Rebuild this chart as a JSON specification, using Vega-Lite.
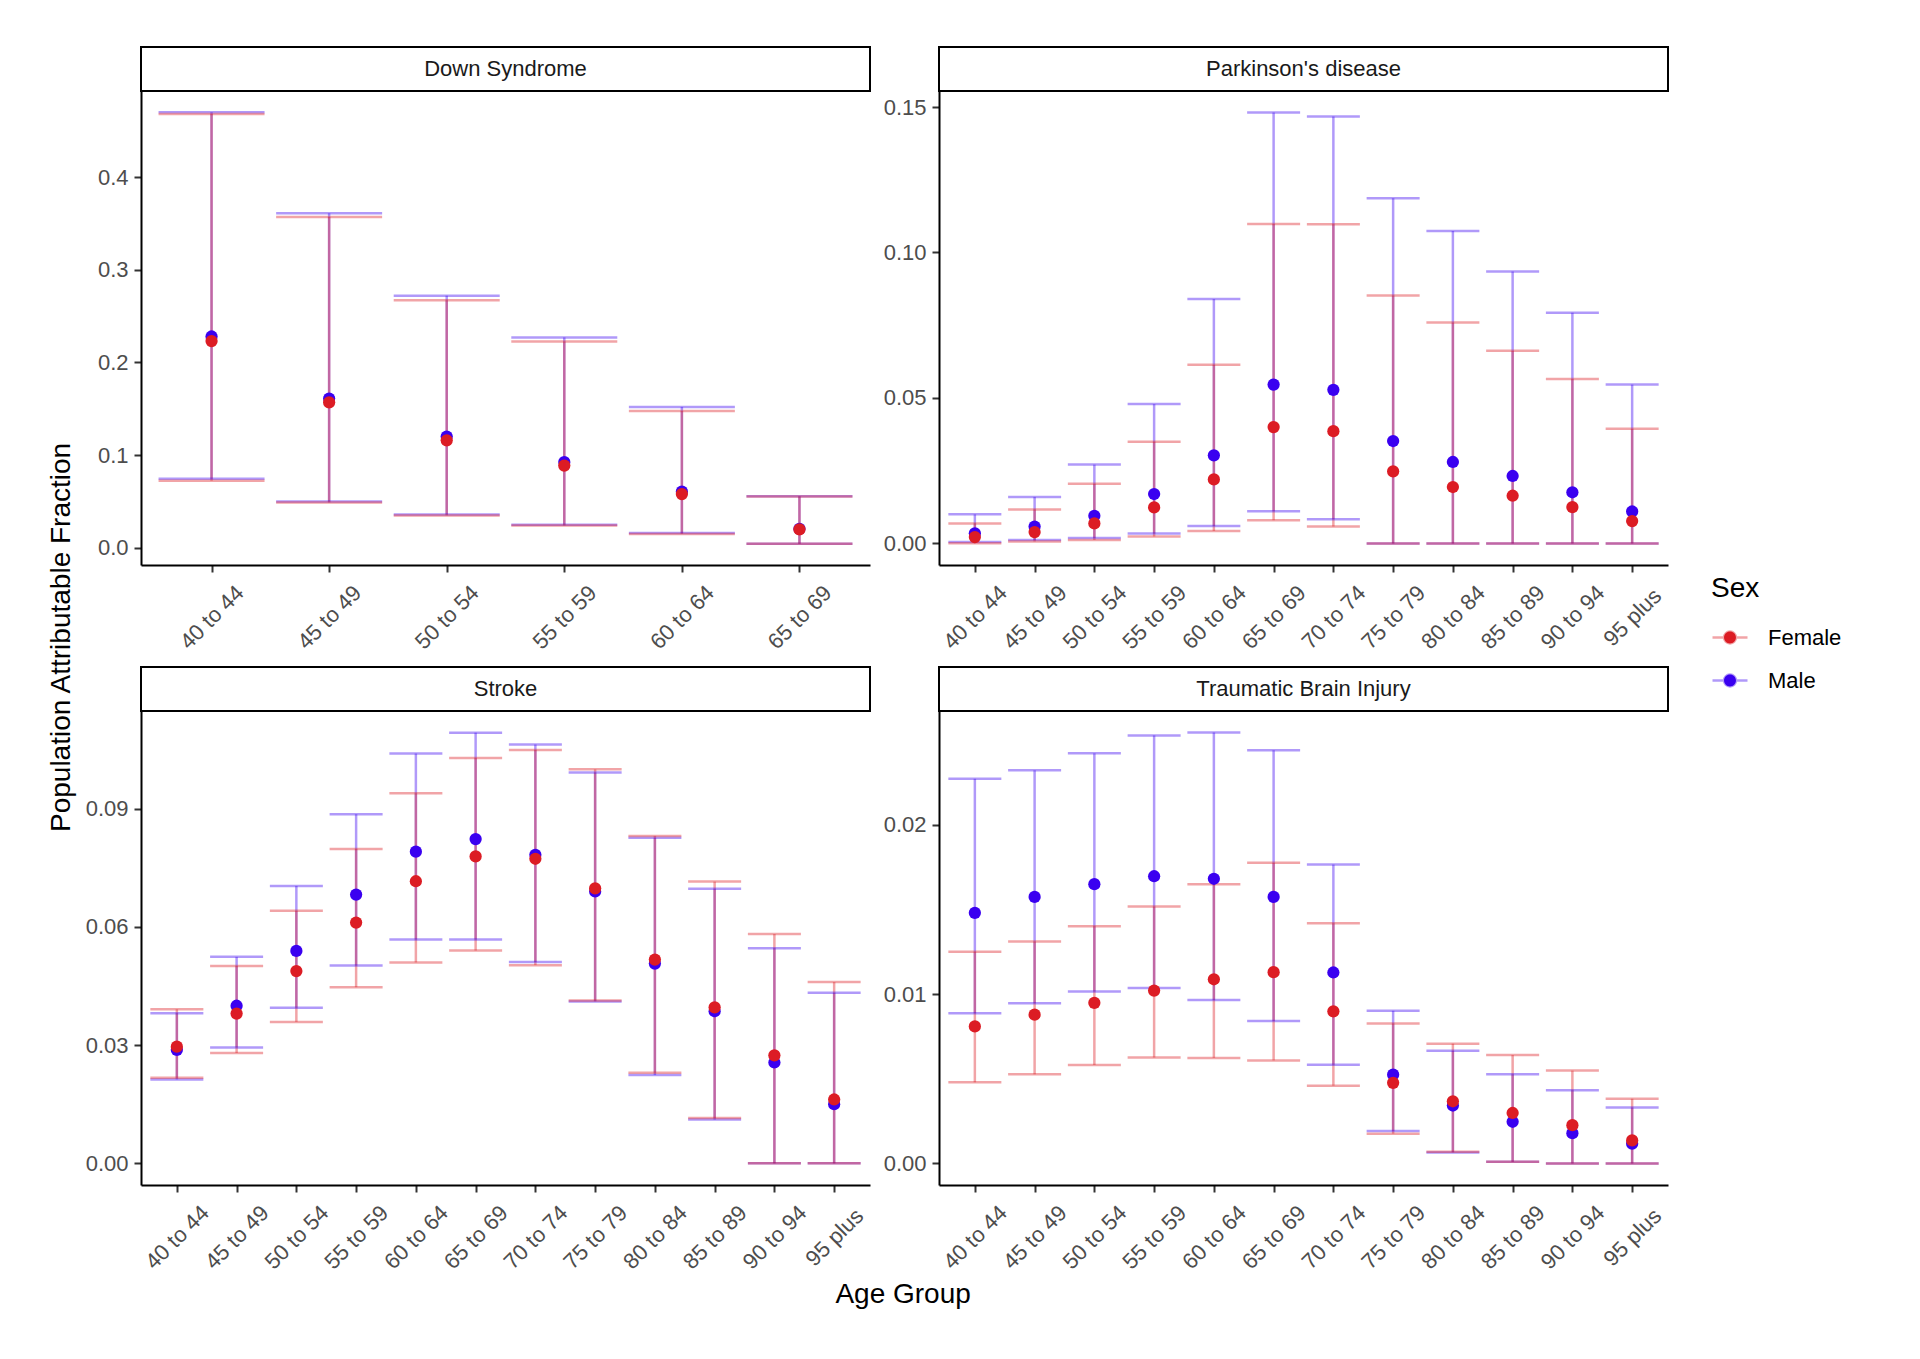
{
  "$schema": "https://vega.github.io/schema/vega-lite/v6.json",
  "padding": {"left": 48, "top": 46, "right": 10, "bottom": 10},
  "background": "white",
  "config": {
    "font": "Liberation Sans",
    "view": {"stroke": null},
    "axis": {"domainColor": "black", "domainWidth": 2, "tickColor": "#333333", "tickWidth": 2, "tickSize": 7, "labelColor": "#4D4D4D", "labelFontSize": 22, "labelFont": "Liberation Sans", "grid": false, "titleFontSize": 28, "titleFontWeight": "normal", "titleColor": "black", "titleFont": "Liberation Sans", "labelOverlap": false},
    "axisY": {"labelPadding": 6},
    "axisX": {"labelAngle": -45, "labelAlign": "center", "labelBaseline": "middle", "labelPadding": 45},
    "title": {"font": "Liberation Sans", "fontSize": 28, "fontWeight": "normal", "color": "black"}
  },
  "datasets": {
    "paf": [
      {"disease": "Down Syndrome", "age": "40 to 44", "sex": "Male", "pe": 0.228, "lo": 0.0745, "hi": 0.470},
      {"disease": "Down Syndrome", "age": "45 to 49", "sex": "Male", "pe": 0.161, "lo": 0.050, "hi": 0.361},
      {"disease": "Down Syndrome", "age": "50 to 54", "sex": "Male", "pe": 0.120, "lo": 0.036, "hi": 0.272},
      {"disease": "Down Syndrome", "age": "55 to 59", "sex": "Male", "pe": 0.0925, "lo": 0.025, "hi": 0.227},
      {"disease": "Down Syndrome", "age": "60 to 64", "sex": "Male", "pe": 0.0606, "lo": 0.016, "hi": 0.152},
      {"disease": "Down Syndrome", "age": "65 to 69", "sex": "Male", "pe": 0.0205, "lo": 0.0045, "hi": 0.0557},
      {"disease": "Parkinson's disease", "age": "40 to 44", "sex": "Male", "pe": 0.0035, "lo": 0.0005, "hi": 0.0100},
      {"disease": "Parkinson's disease", "age": "45 to 49", "sex": "Male", "pe": 0.0058, "lo": 0.0012, "hi": 0.0160},
      {"disease": "Parkinson's disease", "age": "50 to 54", "sex": "Male", "pe": 0.0095, "lo": 0.0019, "hi": 0.0271},
      {"disease": "Parkinson's disease", "age": "55 to 59", "sex": "Male", "pe": 0.0170, "lo": 0.0034, "hi": 0.0479},
      {"disease": "Parkinson's disease", "age": "60 to 64", "sex": "Male", "pe": 0.0303, "lo": 0.0060, "hi": 0.0840},
      {"disease": "Parkinson's disease", "age": "65 to 69", "sex": "Male", "pe": 0.0546, "lo": 0.0111, "hi": 0.1481},
      {"disease": "Parkinson's disease", "age": "70 to 74", "sex": "Male", "pe": 0.0528, "lo": 0.0083, "hi": 0.1467},
      {"disease": "Parkinson's disease", "age": "75 to 79", "sex": "Male", "pe": 0.0352, "lo": 0.0, "hi": 0.1186},
      {"disease": "Parkinson's disease", "age": "80 to 84", "sex": "Male", "pe": 0.0280, "lo": 0.0, "hi": 0.1074},
      {"disease": "Parkinson's disease", "age": "85 to 89", "sex": "Male", "pe": 0.0232, "lo": 0.0, "hi": 0.0935},
      {"disease": "Parkinson's disease", "age": "90 to 94", "sex": "Male", "pe": 0.0176, "lo": 0.0, "hi": 0.0793},
      {"disease": "Parkinson's disease", "age": "95 plus", "sex": "Male", "pe": 0.0110, "lo": 0.0, "hi": 0.0546},
      {"disease": "Stroke", "age": "40 to 44", "sex": "Male", "pe": 0.0288, "lo": 0.0213, "hi": 0.0381},
      {"disease": "Stroke", "age": "45 to 49", "sex": "Male", "pe": 0.0400, "lo": 0.0294, "hi": 0.0524},
      {"disease": "Stroke", "age": "50 to 54", "sex": "Male", "pe": 0.0539, "lo": 0.0395, "hi": 0.0704},
      {"disease": "Stroke", "age": "55 to 59", "sex": "Male", "pe": 0.0682, "lo": 0.0502, "hi": 0.0886},
      {"disease": "Stroke", "age": "60 to 64", "sex": "Male", "pe": 0.0791, "lo": 0.0568, "hi": 0.1040},
      {"disease": "Stroke", "age": "65 to 69", "sex": "Male", "pe": 0.0823, "lo": 0.0568, "hi": 0.1093},
      {"disease": "Stroke", "age": "70 to 74", "sex": "Male", "pe": 0.0783, "lo": 0.0511, "hi": 0.1063},
      {"disease": "Stroke", "age": "75 to 79", "sex": "Male", "pe": 0.0690, "lo": 0.0411, "hi": 0.0992},
      {"disease": "Stroke", "age": "80 to 84", "sex": "Male", "pe": 0.0507, "lo": 0.0224, "hi": 0.0826},
      {"disease": "Stroke", "age": "85 to 89", "sex": "Male", "pe": 0.0386, "lo": 0.0111, "hi": 0.0697},
      {"disease": "Stroke", "age": "90 to 94", "sex": "Male", "pe": 0.0256, "lo": 0.0, "hi": 0.0546},
      {"disease": "Stroke", "age": "95 plus", "sex": "Male", "pe": 0.0150, "lo": 0.0, "hi": 0.0433},
      {"disease": "Traumatic Brain Injury", "age": "40 to 44", "sex": "Male", "pe": 0.01479, "lo": 0.00886, "hi": 0.0227},
      {"disease": "Traumatic Brain Injury", "age": "45 to 49", "sex": "Male", "pe": 0.01573, "lo": 0.00945, "hi": 0.0232},
      {"disease": "Traumatic Brain Injury", "age": "50 to 54", "sex": "Male", "pe": 0.01648, "lo": 0.01015, "hi": 0.0242},
      {"disease": "Traumatic Brain Injury", "age": "55 to 59", "sex": "Male", "pe": 0.01695, "lo": 0.01035, "hi": 0.02526},
      {"disease": "Traumatic Brain Injury", "age": "60 to 64", "sex": "Male", "pe": 0.0168, "lo": 0.00965, "hi": 0.02543},
      {"disease": "Traumatic Brain Injury", "age": "65 to 69", "sex": "Male", "pe": 0.01573, "lo": 0.00841, "hi": 0.02439},
      {"disease": "Traumatic Brain Injury", "age": "70 to 74", "sex": "Male", "pe": 0.01127, "lo": 0.00583, "hi": 0.01764},
      {"disease": "Traumatic Brain Injury", "age": "75 to 79", "sex": "Male", "pe": 0.00524, "lo": 0.00191, "hi": 0.00901},
      {"disease": "Traumatic Brain Injury", "age": "80 to 84", "sex": "Male", "pe": 0.00342, "lo": 0.00065, "hi": 0.00665},
      {"disease": "Traumatic Brain Injury", "age": "85 to 89", "sex": "Male", "pe": 0.00246, "lo": 0.0001, "hi": 0.00526},
      {"disease": "Traumatic Brain Injury", "age": "90 to 94", "sex": "Male", "pe": 0.00179, "lo": 0.0, "hi": 0.00432},
      {"disease": "Traumatic Brain Injury", "age": "95 plus", "sex": "Male", "pe": 0.00117, "lo": 0.0, "hi": 0.0033},
      {"disease": "Down Syndrome", "age": "40 to 44", "sex": "Female", "pe": 0.223, "lo": 0.0725, "hi": 0.468},
      {"disease": "Down Syndrome", "age": "45 to 49", "sex": "Female", "pe": 0.157, "lo": 0.049, "hi": 0.357},
      {"disease": "Down Syndrome", "age": "50 to 54", "sex": "Female", "pe": 0.116, "lo": 0.035, "hi": 0.267},
      {"disease": "Down Syndrome", "age": "55 to 59", "sex": "Female", "pe": 0.0887, "lo": 0.024, "hi": 0.2226},
      {"disease": "Down Syndrome", "age": "60 to 64", "sex": "Female", "pe": 0.058, "lo": 0.015, "hi": 0.1475},
      {"disease": "Down Syndrome", "age": "65 to 69", "sex": "Female", "pe": 0.0200, "lo": 0.0043, "hi": 0.0553},
      {"disease": "Parkinson's disease", "age": "40 to 44", "sex": "Female", "pe": 0.0022, "lo": 0.0001, "hi": 0.0069},
      {"disease": "Parkinson's disease", "age": "45 to 49", "sex": "Female", "pe": 0.0039, "lo": 0.0007, "hi": 0.0117},
      {"disease": "Parkinson's disease", "age": "50 to 54", "sex": "Female", "pe": 0.0069, "lo": 0.0012, "hi": 0.0205},
      {"disease": "Parkinson's disease", "age": "55 to 59", "sex": "Female", "pe": 0.0124, "lo": 0.0024, "hi": 0.0350},
      {"disease": "Parkinson's disease", "age": "60 to 64", "sex": "Female", "pe": 0.0220, "lo": 0.0043, "hi": 0.0614},
      {"disease": "Parkinson's disease", "age": "65 to 69", "sex": "Female", "pe": 0.0400, "lo": 0.0080, "hi": 0.1098},
      {"disease": "Parkinson's disease", "age": "70 to 74", "sex": "Female", "pe": 0.0386, "lo": 0.0058, "hi": 0.1097},
      {"disease": "Parkinson's disease", "age": "75 to 79", "sex": "Female", "pe": 0.0248, "lo": 0.0, "hi": 0.0852},
      {"disease": "Parkinson's disease", "age": "80 to 84", "sex": "Female", "pe": 0.0194, "lo": 0.0, "hi": 0.0759},
      {"disease": "Parkinson's disease", "age": "85 to 89", "sex": "Female", "pe": 0.0164, "lo": 0.0, "hi": 0.0662},
      {"disease": "Parkinson's disease", "age": "90 to 94", "sex": "Female", "pe": 0.0125, "lo": 0.0, "hi": 0.0565},
      {"disease": "Parkinson's disease", "age": "95 plus", "sex": "Female", "pe": 0.0077, "lo": 0.0, "hi": 0.0394},
      {"disease": "Stroke", "age": "40 to 44", "sex": "Female", "pe": 0.0296, "lo": 0.0217, "hi": 0.0391},
      {"disease": "Stroke", "age": "45 to 49", "sex": "Female", "pe": 0.0380, "lo": 0.0280, "hi": 0.0501},
      {"disease": "Stroke", "age": "50 to 54", "sex": "Female", "pe": 0.0488, "lo": 0.0359, "hi": 0.0641},
      {"disease": "Stroke", "age": "55 to 59", "sex": "Female", "pe": 0.0611, "lo": 0.0447, "hi": 0.0798},
      {"disease": "Stroke", "age": "60 to 64", "sex": "Female", "pe": 0.0716, "lo": 0.0510, "hi": 0.0939},
      {"disease": "Stroke", "age": "65 to 69", "sex": "Female", "pe": 0.0779, "lo": 0.0540, "hi": 0.1029},
      {"disease": "Stroke", "age": "70 to 74", "sex": "Female", "pe": 0.0773, "lo": 0.0503, "hi": 0.1049},
      {"disease": "Stroke", "age": "75 to 79", "sex": "Female", "pe": 0.0698, "lo": 0.0413, "hi": 0.1000},
      {"disease": "Stroke", "age": "80 to 84", "sex": "Female", "pe": 0.0517, "lo": 0.0230, "hi": 0.0831},
      {"disease": "Stroke", "age": "85 to 89", "sex": "Female", "pe": 0.0396, "lo": 0.0115, "hi": 0.0715},
      {"disease": "Stroke", "age": "90 to 94", "sex": "Female", "pe": 0.0274, "lo": 0.0, "hi": 0.0582},
      {"disease": "Stroke", "age": "95 plus", "sex": "Female", "pe": 0.0162, "lo": 0.0, "hi": 0.0460},
      {"disease": "Traumatic Brain Injury", "age": "40 to 44", "sex": "Female", "pe": 0.00809, "lo": 0.00479, "hi": 0.0125},
      {"disease": "Traumatic Brain Injury", "age": "45 to 49", "sex": "Female", "pe": 0.00878, "lo": 0.00526, "hi": 0.0131},
      {"disease": "Traumatic Brain Injury", "age": "50 to 54", "sex": "Female", "pe": 0.00948, "lo": 0.00581, "hi": 0.0140},
      {"disease": "Traumatic Brain Injury", "age": "55 to 59", "sex": "Female", "pe": 0.0102, "lo": 0.00625, "hi": 0.01516},
      {"disease": "Traumatic Brain Injury", "age": "60 to 64", "sex": "Female", "pe": 0.01087, "lo": 0.00623, "hi": 0.01648},
      {"disease": "Traumatic Brain Injury", "age": "65 to 69", "sex": "Female", "pe": 0.01129, "lo": 0.00608, "hi": 0.01774},
      {"disease": "Traumatic Brain Injury", "age": "70 to 74", "sex": "Female", "pe": 0.00898, "lo": 0.00459, "hi": 0.01417},
      {"disease": "Traumatic Brain Injury", "age": "75 to 79", "sex": "Female", "pe": 0.00476, "lo": 0.00176, "hi": 0.00826},
      {"disease": "Traumatic Brain Injury", "age": "80 to 84", "sex": "Female", "pe": 0.00367, "lo": 0.00069, "hi": 0.00707},
      {"disease": "Traumatic Brain Injury", "age": "85 to 89", "sex": "Female", "pe": 0.00298, "lo": 0.0001, "hi": 0.0064},
      {"disease": "Traumatic Brain Injury", "age": "90 to 94", "sex": "Female", "pe": 0.00226, "lo": 0.0, "hi": 0.00548},
      {"disease": "Traumatic Brain Injury", "age": "95 plus", "sex": "Female", "pe": 0.00136, "lo": 0.0, "hi": 0.00382}
    ]
  },
  "title": {"text": "Population Attributable Fraction", "orient": "left", "anchor": "middle", "offset": -13, "baseline": "alphabetic", "dx": 40},
  "resolve": {"scale": {"color": "shared"}, "legend": {"color": "shared"}},
  "spacing": 0,
  "vconcat": [
    {
      "title": {"text": "Age Group", "orient": "bottom", "anchor": "middle", "offset": 8, "dx": 26},
      "spacing": 13,
      "vconcat": [
        {
          "spacing": 12,
          "hconcat": [
            {
              "spacing": 0, "bounds": "flush",
              "vconcat": [
                {"width": 729, "height": 44, "data": {"values": [{"panel": "Down Syndrome"}]}, "view": {"stroke": "black", "strokeWidth": 2, "fill": "white"}, "mark": {"type": "text", "fontSize": 22, "color": "#1A1A1A", "align": "center", "baseline": "middle", "font": "Liberation Sans"}, "encoding": {"text": {"field": "panel", "type": "nominal"}}},
                {
                  "width": 729, "height": 474,
                  "data": {"name": "paf"},
                  "transform": [{"filter": "datum.disease === 'Down Syndrome'"}],
                  "encoding": {
                    "x": {"field": "age", "type": "ordinal", "scale": {"type": "point", "padding": 0.6}, "axis": {"title": null}},
                    "color": {"field": "sex", "type": "nominal", "scale": {"domain": ["Female", "Male"], "range": ["#DC1C24", "#3A00F0"]},
                      "legend": {"title": "Sex", "orient": "none", "legendX": 1570, "legendY": 528, "titleFontSize": 28, "titleFontWeight": "normal", "titleColor": "black", "titleFont": "Liberation Sans", "titlePadding": 15.5, "labelFontSize": 22, "labelColor": "black", "labelFont": "Liberation Sans", "labelOffset": 19, "rowPadding": 13, "symbolType": "M -1 0 L 1 0 M -0.34 0 A 0.34 0.34 0 1 1 0.34 0 A 0.34 0.34 0 1 1 -0.34 0 Z", "symbolSize": 1225, "symbolStrokeWidth": 2.5, "symbolOpacity": 1,
                        "encode": {"symbols": {"update": {"fill": {"scale": "color", "field": "value"}, "stroke": {"scale": "color", "field": "value"}, "fillOpacity": {"value": 1}, "strokeOpacity": {"value": 0.4}, "opacity": {"value": 1}}}}}}
                  },
                  "layer": [
                    {"mark": {"type": "rule", "opacity": 0.4, "strokeWidth": 2.5}, "encoding": {"y": {"field": "lo", "type": "quantitative", "scale": {"domain": [-0.0185, 0.4928], "nice": false, "zero": false}, "axis": {"title": null, "values": [0, 0.1, 0.2, 0.3, 0.4], "format": ".1f"}}, "y2": {"field": "hi"}}},
                    {"mark": {"type": "tick", "opacity": 0.4, "thickness": 2.5, "size": 106}, "encoding": {"y": {"field": "hi", "type": "quantitative", "scale": {"domain": [-0.0185, 0.4928], "nice": false, "zero": false}, "axis": {"title": null, "values": [0, 0.1, 0.2, 0.3, 0.4], "format": ".1f"}}}},
                    {"mark": {"type": "tick", "opacity": 0.4, "thickness": 2.5, "size": 106}, "encoding": {"y": {"field": "lo", "type": "quantitative", "scale": {"domain": [-0.0185, 0.4928], "nice": false, "zero": false}, "axis": {"title": null, "values": [0, 0.1, 0.2, 0.3, 0.4], "format": ".1f"}}}},
                    {"mark": {"type": "point", "filled": true, "opacity": 1, "size": 150}, "encoding": {"y": {"field": "pe", "type": "quantitative", "scale": {"domain": [-0.0185, 0.4928], "nice": false, "zero": false}, "axis": {"title": null, "values": [0, 0.1, 0.2, 0.3, 0.4], "format": ".1f"}}}}
                  ]
                }
              ]
            },
            {
              "spacing": 0, "bounds": "flush",
              "vconcat": [
                {"width": 729, "height": 44, "data": {"values": [{"panel": "Parkinson's disease"}]}, "view": {"stroke": "black", "strokeWidth": 2, "fill": "white"}, "mark": {"type": "text", "fontSize": 22, "color": "#1A1A1A", "align": "center", "baseline": "middle", "font": "Liberation Sans"}, "encoding": {"text": {"field": "panel", "type": "nominal"}}},
                {
                  "width": 729, "height": 474,
                  "data": {"name": "paf"},
                  "transform": [{"filter": "datum.disease === \"Parkinson's disease\""}],
                  "encoding": {
                    "x": {"field": "age", "type": "ordinal", "scale": {"type": "point", "padding": 0.6}, "axis": {"title": null}},
                    "color": {"field": "sex", "type": "nominal", "scale": {"domain": ["Female", "Male"], "range": ["#DC1C24", "#3A00F0"]}}
                  },
                  "layer": [
                    {"mark": {"type": "rule", "opacity": 0.4, "strokeWidth": 2.5}, "encoding": {"y": {"field": "lo", "type": "quantitative", "scale": {"domain": [-0.0074, 0.1555], "nice": false, "zero": false}, "axis": {"title": null, "values": [0, 0.05, 0.1, 0.15], "format": ".2f"}}, "y2": {"field": "hi"}}},
                    {"mark": {"type": "tick", "opacity": 0.4, "thickness": 2.5, "size": 53}, "encoding": {"y": {"field": "hi", "type": "quantitative", "scale": {"domain": [-0.0074, 0.1555], "nice": false, "zero": false}, "axis": {"title": null, "values": [0, 0.05, 0.1, 0.15], "format": ".2f"}}}},
                    {"mark": {"type": "tick", "opacity": 0.4, "thickness": 2.5, "size": 53}, "encoding": {"y": {"field": "lo", "type": "quantitative", "scale": {"domain": [-0.0074, 0.1555], "nice": false, "zero": false}, "axis": {"title": null, "values": [0, 0.05, 0.1, 0.15], "format": ".2f"}}}},
                    {"mark": {"type": "point", "filled": true, "opacity": 1, "size": 150}, "encoding": {"y": {"field": "pe", "type": "quantitative", "scale": {"domain": [-0.0074, 0.1555], "nice": false, "zero": false}, "axis": {"title": null, "values": [0, 0.05, 0.1, 0.15], "format": ".2f"}}}}
                  ]
                }
              ]
            }
          ]
        },
        {
          "spacing": 12,
          "hconcat": [
            {
              "spacing": 0, "bounds": "flush",
              "vconcat": [
                {"width": 729, "height": 44, "data": {"values": [{"panel": "Stroke"}]}, "view": {"stroke": "black", "strokeWidth": 2, "fill": "white"}, "mark": {"type": "text", "fontSize": 22, "color": "#1A1A1A", "align": "center", "baseline": "middle", "font": "Liberation Sans"}, "encoding": {"text": {"field": "panel", "type": "nominal"}}},
                {
                  "width": 729, "height": 474,
                  "data": {"name": "paf"},
                  "transform": [{"filter": "datum.disease === 'Stroke'"}],
                  "encoding": {
                    "x": {"field": "age", "type": "ordinal", "scale": {"type": "point", "padding": 0.6}, "axis": {"title": null}},
                    "color": {"field": "sex", "type": "nominal", "scale": {"domain": ["Female", "Male"], "range": ["#DC1C24", "#3A00F0"]}}
                  },
                  "layer": [
                    {"mark": {"type": "rule", "opacity": 0.4, "strokeWidth": 2.5}, "encoding": {"y": {"field": "lo", "type": "quantitative", "scale": {"domain": [-0.0055, 0.1148], "nice": false, "zero": false}, "axis": {"title": null, "values": [0, 0.03, 0.06, 0.09], "format": ".2f"}}, "y2": {"field": "hi"}}},
                    {"mark": {"type": "tick", "opacity": 0.4, "thickness": 2.5, "size": 53}, "encoding": {"y": {"field": "hi", "type": "quantitative", "scale": {"domain": [-0.0055, 0.1148], "nice": false, "zero": false}, "axis": {"title": null, "values": [0, 0.03, 0.06, 0.09], "format": ".2f"}}}},
                    {"mark": {"type": "tick", "opacity": 0.4, "thickness": 2.5, "size": 53}, "encoding": {"y": {"field": "lo", "type": "quantitative", "scale": {"domain": [-0.0055, 0.1148], "nice": false, "zero": false}, "axis": {"title": null, "values": [0, 0.03, 0.06, 0.09], "format": ".2f"}}}},
                    {"mark": {"type": "point", "filled": true, "opacity": 1, "size": 150}, "encoding": {"y": {"field": "pe", "type": "quantitative", "scale": {"domain": [-0.0055, 0.1148], "nice": false, "zero": false}, "axis": {"title": null, "values": [0, 0.03, 0.06, 0.09], "format": ".2f"}}}}
                  ]
                }
              ]
            },
            {
              "spacing": 0, "bounds": "flush",
              "vconcat": [
                {"width": 729, "height": 44, "data": {"values": [{"panel": "Traumatic Brain Injury"}]}, "view": {"stroke": "black", "strokeWidth": 2, "fill": "white"}, "mark": {"type": "text", "fontSize": 22, "color": "#1A1A1A", "align": "center", "baseline": "middle", "font": "Liberation Sans"}, "encoding": {"text": {"field": "panel", "type": "nominal"}}},
                {
                  "width": 729, "height": 474,
                  "data": {"name": "paf"},
                  "transform": [{"filter": "datum.disease === 'Traumatic Brain Injury'"}],
                  "encoding": {
                    "x": {"field": "age", "type": "ordinal", "scale": {"type": "point", "padding": 0.6}, "axis": {"title": null}},
                    "color": {"field": "sex", "type": "nominal", "scale": {"domain": ["Female", "Male"], "range": ["#DC1C24", "#3A00F0"]}}
                  },
                  "layer": [
                    {"mark": {"type": "rule", "opacity": 0.4, "strokeWidth": 2.5}, "encoding": {"y": {"field": "lo", "type": "quantitative", "scale": {"domain": [-0.00127, 0.0267], "nice": false, "zero": false}, "axis": {"title": null, "values": [0, 0.01, 0.02], "format": ".2f"}}, "y2": {"field": "hi"}}},
                    {"mark": {"type": "tick", "opacity": 0.4, "thickness": 2.5, "size": 53}, "encoding": {"y": {"field": "hi", "type": "quantitative", "scale": {"domain": [-0.00127, 0.0267], "nice": false, "zero": false}, "axis": {"title": null, "values": [0, 0.01, 0.02], "format": ".2f"}}}},
                    {"mark": {"type": "tick", "opacity": 0.4, "thickness": 2.5, "size": 53}, "encoding": {"y": {"field": "lo", "type": "quantitative", "scale": {"domain": [-0.00127, 0.0267], "nice": false, "zero": false}, "axis": {"title": null, "values": [0, 0.01, 0.02], "format": ".2f"}}}},
                    {"mark": {"type": "point", "filled": true, "opacity": 1, "size": 150}, "encoding": {"y": {"field": "pe", "type": "quantitative", "scale": {"domain": [-0.00127, 0.0267], "nice": false, "zero": false}, "axis": {"title": null, "values": [0, 0.01, 0.02], "format": ".2f"}}}}
                  ]
                }
              ]
            }
          ]
        }
      ]
    }
  ]
}
